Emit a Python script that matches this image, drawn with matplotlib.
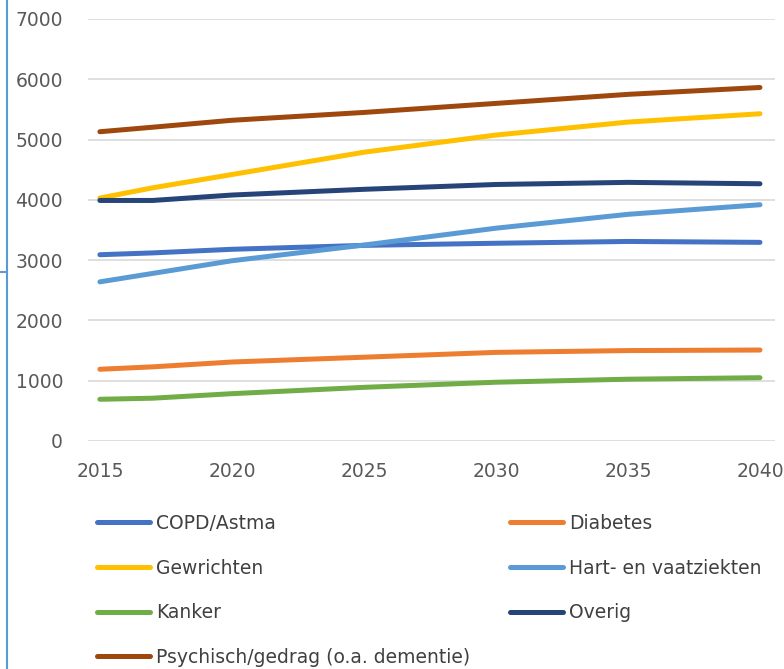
import matplotlib.pyplot as plt
from matplotlib.lines import Line2D

plt.rcParams['font.family'] = ['DejaVu Sans']

years = [2015, 2017, 2020, 2025, 2030, 2035, 2040]

copd = [3090, 3120, 3180, 3245, 3280, 3310, 3295]
diabetes = [1190, 1230, 1310, 1390, 1470, 1500, 1509]
gewrichten = [4030, 4200, 4420, 4790, 5075, 5290, 5428]
hart = [2640, 2780, 2990, 3250, 3530, 3760, 3919]
kanker = [692, 710, 785, 890, 975, 1025, 1050]
overig = [3990, 3990, 4080, 4175, 4255, 4290, 4267]
psychisch = [5130, 5205, 5320, 5450, 5600, 5750, 5864]

names = ["COPD/Astma", "Diabetes", "Gewrichten", "Hart- en vaatziekten",
         "Kanker", "Overig", "Psychisch/gedrag (o.a. dementie)"]
series = [copd, diabetes, gewrichten, hart, kanker, overig, psychisch]
colors = ["#4472C4", "#ED7D31", "#FFC000", "#5B9BD5",
          "#70AD47", "#264478", "#9E480E"]

fig = plt.figure(figsize=(7.84, 6.69), dpi=100)
ax = fig.add_axes([88/784, 1-441/669, (775-88)/784, (441-19)/669])

for name, vals, c in zip(names, series, colors):
    ax.plot(years, vals, color=c, lw=3.6, solid_capstyle='round',
            solid_joinstyle='round', label=name)

ax.set_xlim(2014.55, 2040.57)
ax.set_ylim(0, 7000)
ax.set_xticks(range(2015, 2041, 5))
ax.set_yticks(range(0, 7001, 1000))
ax.grid(axis='y', color='#D9D9D9', lw=1.2)
ax.set_axisbelow(True)
for s in ax.spines.values():
    s.set_visible(False)
ax.tick_params(length=0, labelsize=13.5, colors='#595959')
ax.tick_params(axis='y', pad=18)
ax.tick_params(axis='x', pad=15)

# legend, row-wise in two columns
order = [0, 2, 4, 6, 1, 3, 5]
handles = [Line2D([], [], color=colors[i], lw=3.6, solid_capstyle='round')
           for i in order]
labels = [names[i] for i in order]
fig.legend(handles, labels, ncol=2, loc='upper left',
           bbox_to_anchor=(80/784, 1-497/669), frameon=False,
           fontsize=13.5, labelcolor='#404040', handlelength=2.83,
           handletextpad=0.32, columnspacing=2.13, labelspacing=1.37)

# frame fragments at the left edge
fig.add_artist(Line2D([7/784, 7/784], [0, 1], color='#5B9BD5', lw=1.5))
fig.add_artist(Line2D([0, 7/784], [1-272/669, 1-272/669], color='#5B9BD5', lw=1.5))

fig.savefig("out.png", dpi=100)
